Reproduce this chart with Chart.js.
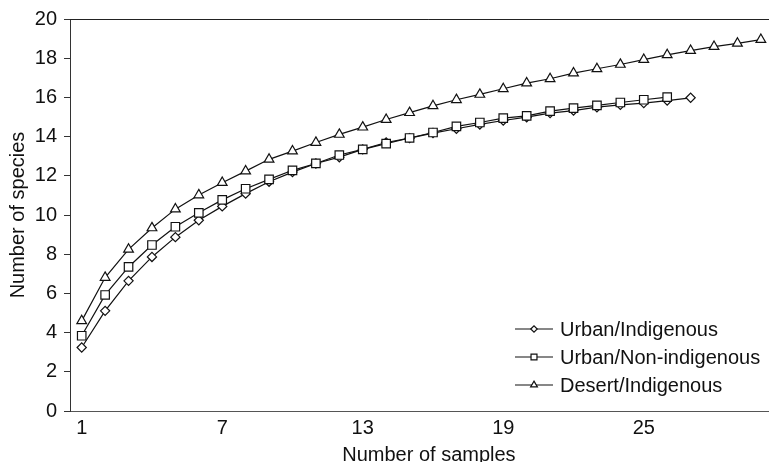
<!DOCTYPE html>
<html>
<head>
<meta charset="utf-8">
<script src="https://cdn.jsdelivr.net/npm/chart.js@4/dist/chart.umd.min.js"></script>
<style>
  html, body { margin: 0; padding: 0; background: #fff; }
  #wrap { width: 769px; height: 462px; overflow: hidden; }
</style>
</head>
<body>
<!-- the plot runs past the right edge of the picture, so the canvas is wider and cropped -->
<div id="wrap"><canvas id="curves" width="795" height="462"></canvas></div>
<script>
const samples = [1, 2, 3, 4, 5, 6, 7, 8, 9, 10, 11, 12, 13, 14, 15, 16, 17, 18, 19, 20, 21, 22, 23, 24, 25, 26, 27, 28, 29, 30];
const xTicks = [1, 7, 13, 19, 25];

const urbanIndigenous = [3.24, 5.11, 6.64, 7.86, 8.87, 9.73, 10.44, 11.09, 11.70, 12.19, 12.63, 12.95, 13.35, 13.70, 13.92, 14.18, 14.40, 14.62, 14.82, 14.99, 15.20, 15.33, 15.50, 15.62, 15.71, 15.84, 15.98];
const urbanNonIndigenous = [3.84, 5.92, 7.35, 8.47, 9.40, 10.11, 10.77, 11.34, 11.82, 12.28, 12.63, 13.06, 13.35, 13.64, 13.93, 14.21, 14.52, 14.72, 14.94, 15.06, 15.30, 15.45, 15.59, 15.74, 15.88, 16.01];
const desertIndigenous = [4.60, 6.81, 8.25, 9.34, 10.30, 11.02, 11.65, 12.24, 12.84, 13.26, 13.70, 14.11, 14.48, 14.87, 15.22, 15.57, 15.88, 16.15, 16.44, 16.73, 16.95, 17.24, 17.46, 17.68, 17.93, 18.17, 18.39, 18.59, 18.76, 18.95];

const font = 'Liberation Sans, Arial, sans-serif';
const ink = '#111';

const pts = vals => vals.map((v, i) => ({ x: samples[i], y: v }));

function series(label, vals, style, r, order) {
  return {
    label: label,
    data: pts(vals),
    borderColor: ink,
    borderWidth: 1.2,
    pointStyle: style,
    pointRadius: r,
    pointHoverRadius: r,
    pointBackgroundColor: '#fff',
    pointBorderColor: ink,
    pointBorderWidth: 1.2,
    legendRadius: r * 0.7,
    order: order,
    clip: false
  };
}

// legend drawn inside the plot: short line with the marker in the middle
const insideLegend = {
  id: 'insideLegend',
  afterDraw(chart) {
    const ctx = chart.ctx;
    const x0 = 515, x1 = 553;
    const ys = [329, 357, 385];
    ctx.save();
    chart.data.datasets.forEach((ds, i) => {
      const y = ys[i];
      ctx.strokeStyle = ink;
      ctx.lineWidth = 1.2;
      ctx.beginPath();
      ctx.moveTo(x0, y);
      ctx.lineTo(x1, y);
      ctx.stroke();
      ctx.fillStyle = '#fff';
      Chart.helpers.drawPoint(ctx, { pointStyle: ds.pointStyle, radius: ds.legendRadius, rotation: 0, borderWidth: 1 }, (x0 + x1) / 2, y);
      ctx.fillStyle = '#111';
      ctx.font = '20px ' + font;
      ctx.textBaseline = 'middle';
      ctx.textAlign = 'left';
      ctx.fillText(ds.label, 560, y + 1);
    });
    // top frame line
    const a = chart.chartArea;
    ctx.strokeStyle = '#222';
    ctx.lineWidth = 1;
    ctx.beginPath();
    ctx.moveTo(a.left, a.top + 0.5);
    ctx.lineTo(a.right, a.top + 0.5);
    ctx.stroke();
    ctx.restore();
  }
};

new Chart(document.getElementById('curves'), {
  type: 'line',
  data: {
    datasets: [
      series('Urban/Indigenous', urbanIndigenous, 'rectRot', 4.6, 1),
      series('Urban/Non-indigenous', urbanNonIndigenous, 'rect', 6, 0),
      series('Desert/Indigenous', desertIndigenous, 'triangle', 5.6, 2)
    ]
  },
  options: {
    responsive: false,
    animation: false,
    devicePixelRatio: 1,
    layout: { padding: { top: 18, right: 0, bottom: 0, left: 0 } },
    plugins: {
      legend: { display: false },
      tooltip: { enabled: false }
    },
    scales: {
      x: {
        type: 'linear',
        min: 0.5,
        max: 31.15,
        afterFit(scale) { scale.height = 51; },
        afterBuildTicks(scale) { scale.ticks = xTicks.map(v => ({ value: v })); },
        grid: { display: false },
        border: { display: true, color: '#555', width: 1 },
        ticks: { color: '#111', padding: -3, font: { family: font, size: 20 } },
        title: {
          display: true,
          text: 'Number of samples',
          color: '#111',
          padding: { top: 0, bottom: -5 },
          font: { family: font, size: 20 }
        }
      },
      y: {
        min: 0,
        max: 20,
        afterFit(scale) { scale.width = 70; },
        grid: { drawOnChartArea: false, drawTicks: true, tickLength: 6, color: '#333' },
        border: { display: true, color: '#333', width: 1 },
        ticks: { stepSize: 2, color: '#111', padding: 7, font: { family: font, size: 20 } },
        title: {
          display: true,
          text: 'Number of species',
          color: '#111',
          padding: { top: 6, bottom: 0 },
          font: { family: font, size: 20 }
        }
      }
    }
  },
  plugins: [insideLegend]
});
</script>
</body>
</html>
